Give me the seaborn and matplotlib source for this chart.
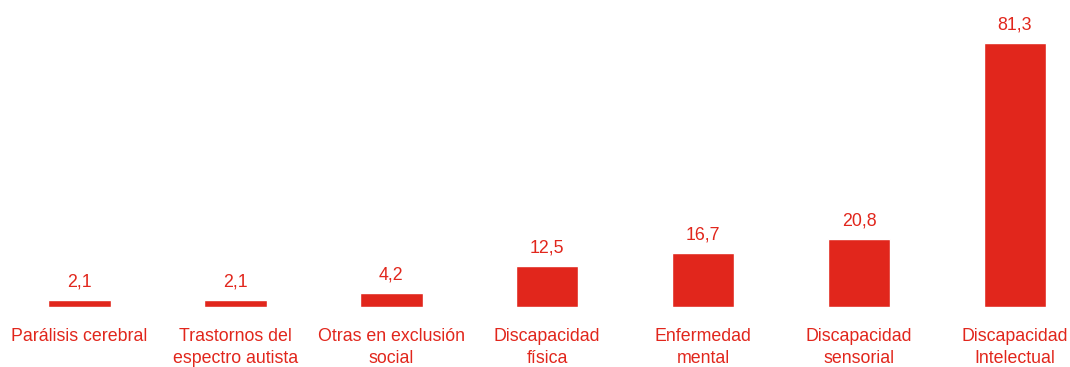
import matplotlib
matplotlib.use("Agg")
import matplotlib.pyplot as plt
import seaborn as sns
import pandas as pd

categories = [
    "Parálisis cerebral",
    "Trastornos del\nespectro autista",
    "Otras en exclusión\nsocial",
    "Discapacidad\nfísica",
    "Enfermedad\nmental",
    "Discapacidad\nsensorial",
    "Discapacidad\nIntelectual",
]
values = [2.1, 2.1, 4.2, 12.5, 16.7, 20.8, 81.3]
value_labels = ["2,1", "2,1", "4,2", "12,5", "16,7", "20,8", "81,3"]

RED = "#E1261C"
FS = 12.8

sns.set_theme(style="white")
plt.rcParams["font.family"] = ["Liberation Sans", "DejaVu Sans"]

df = pd.DataFrame({"categoria": categories, "valor": values})

fig = plt.figure(figsize=(10.70, 3.67), dpi=100)
ax = fig.add_axes([0, 0.1635, 1, 0.8365])

sns.barplot(data=df, x="categoria", y="valor", color=RED, saturation=1,
            width=0.4, ax=ax)

for i, (v, lab) in enumerate(zip(values, value_labels)):
    ax.annotate(lab, xy=(i, v), xytext=(0, 7), textcoords="offset points",
                ha="center", va="bottom", fontsize=FS, color=RED)

ax.set_xlim(-0.51, 6.353)
ax.set_ylim(0, 94.5)
ax.set_xlabel("")
ax.set_ylabel("")
ax.set_yticks([])
ax.set_xticks(range(len(categories)))
ax.set_xticklabels(categories, fontsize=FS, color=RED, linespacing=1.4)
ax.tick_params(axis="x", length=0, pad=15)
sns.despine(ax=ax, left=True, bottom=True)

fig.savefig("out.png", dpi=100)
